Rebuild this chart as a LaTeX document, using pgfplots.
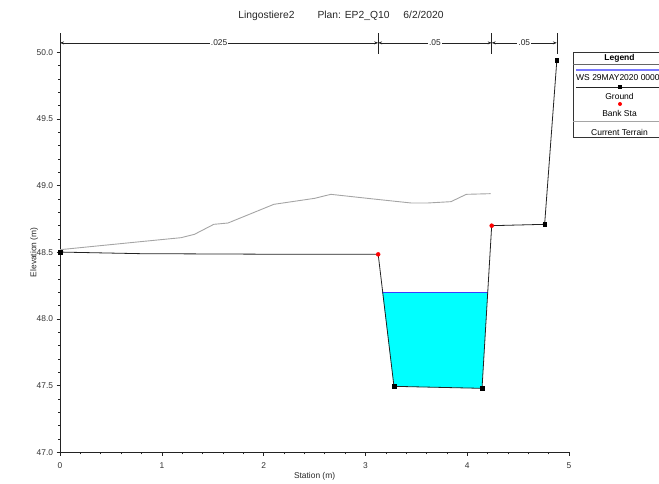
\documentclass[border=0pt]{standalone}
\usepackage{fontspec}
\setmainfont{Liberation Sans}
\usepackage{pgfplots}
\pgfplotsset{compat=1.18}
\usetikzlibrary{arrows.meta}
\definecolor{wsblue}{RGB}{60,60,255}
\definecolor{terrain}{RGB}{165,165,165}
\definecolor{gnd}{RGB}{35,35,35}
\definecolor{water}{RGB}{0,255,255}
\begin{document}
\begin{tikzpicture}[x=1pt,y=1pt]
\begin{axis}[
  at={(59,23)}, anchor=south west,
  scale only axis, width=509pt, height=400pt,
  xmin=0, xmax=5, ymin=47, ymax=50,
  axis x line=bottom, axis y line=left,
  axis line style={-, gnd, line width=0.8pt},
  clip=false,
  xtick={0,1,2,3,4,5},
  ytick={47,47.5,48,48.5,49,49.5,50},
  minor x tick num=4, minor y tick num=4,
  tick align=outside,
  major tick length=3.5pt, minor tick length=2pt,
  tick style={gnd, line width=0.6pt},
  /pgf/number format/assume math mode=true,
  ticklabel style={font=\fontsize{8.4}{10}\selectfont, text=black!80},
  yticklabel style={/pgf/number format/.cd, fixed, fixed zerofill, precision=1},
  xticklabel style={yshift=-3pt, /pgf/number format/.cd, fixed, precision=0},
  xlabel={Station (m)}, ylabel={Elevation (m)},
  label style={font=\fontsize{8.4}{10}\selectfont, text=black!85},
  xlabel style={at={(axis description cs:0.5,-0.06)}, anchor=center},
  ylabel style={at={(axis description cs:-0.051,0.5)}, anchor=center},
  title={Lingostiere2\hspace{23pt}Plan: EP2\_Q10\hspace{14pt}6/2/2020},
  title style={at={(axis description cs:0.552,1.077)}, anchor=center, font=\fontsize{10.3}{12}\selectfont, text=black!85},
]
% water fill
\addplot[draw=none, fill=water] coordinates {(3.166,48.20) (3.28,47.495) (4.145,47.48) (4.201,48.20)} -- cycle;
% water surface
\addplot[wsblue, line width=1pt] coordinates {(3.166,48.20) (4.201,48.20)};
% current terrain
\addplot[terrain, line width=0.9pt] coordinates {
  (0,48.52) (0.79,48.58) (1.19,48.61) (1.32,48.635) (1.51,48.71) (1.65,48.72)
  (2.10,48.86) (2.50,48.905) (2.66,48.935) (3.08,48.90) (3.45,48.87) (3.61,48.87)
  (3.84,48.88) (3.99,48.935) (4.23,48.94)};
% ground
\addplot[gnd, line width=0.8pt] coordinates {
  (0,48.502) (0.79,48.49) (2.35,48.485) (3.125,48.485) (3.28,47.495)
  (4.145,47.48) (4.24,48.70) (4.76,48.71) (4.88,49.94)};
\addplot[only marks, mark=square*, mark size=1.8pt, black] coordinates {
  (0,48.502) (3.28,47.495) (4.145,47.48) (4.76,48.71) (4.88,49.94)};
\addplot[only marks, mark=*, mark size=2pt, red] coordinates {
  (3.125,48.485) (4.24,48.70)};
% Manning n bars
\draw[gnd, line width=0.6pt] (axis cs:0,50.142) -- (axis cs:0,49.99);
\draw[gnd, line width=0.6pt] (axis cs:3.125,50.142) -- (axis cs:3.125,49.99);
\draw[gnd, line width=0.6pt] (axis cs:4.24,50.142) -- (axis cs:4.24,49.99);
\draw[gnd, line width=0.6pt] (axis cs:4.88,50.142) -- (axis cs:4.88,49.99);
\draw[gnd, line width=0.6pt, {Stealth[length=4pt,width=3pt]}-{Stealth[length=4pt,width=3pt]}] (axis cs:0,50.071) -- node[fill=white, inner sep=1pt, font=\fontsize{8.4}{10}\selectfont, text=black!85] {.025} (axis cs:3.125,50.071);
\draw[gnd, line width=0.6pt, {Stealth[length=4pt,width=3pt]}-{Stealth[length=4pt,width=3pt]}] (axis cs:3.125,50.071) -- node[fill=white, inner sep=1pt, font=\fontsize{8.4}{10}\selectfont, text=black!85] {.05} (axis cs:4.24,50.071);
\draw[gnd, line width=0.6pt, {Stealth[length=4pt,width=3pt]}-{Stealth[length=4pt,width=3pt]}] (axis cs:4.24,50.071) -- node[fill=white, inner sep=1pt, font=\fontsize{8.4}{10}\selectfont, text=black!85] {.05} (axis cs:4.88,50.071);
\end{axis}
% legend
\begin{scope}[font=\fontsize{8.5}{10}\selectfont]
\draw[black!80, line width=0.8pt] (573,346) -- (573,431) -- (700,431);
\draw[black!80, line width=0.8pt] (573,346) -- (700,346);
\node[font=\fontsize{8.5}{10}\selectfont\bfseries] at (619.5,425) {Legend};
\draw[black!60, line width=0.8pt] (573,419) -- (700,419);
\draw[wsblue!70, line width=1.4pt] (576,413) -- (700,413);
\node[anchor=west, inner sep=0pt] at (576,405) {WS 29MAY2020 0000};
\draw[gnd, line width=0.8pt] (576,396) -- (700,396);
\node[fill=black, minimum size=3.6pt, inner sep=0pt] at (620,396) {};
\node at (619.5,387) {Ground};
\node[circle, fill=red, minimum size=4pt, inner sep=0pt] at (620,379) {};
\node at (619.5,370) {Bank Sta};
\draw[terrain, line width=1pt] (573,361) -- (700,361);
\node at (619.5,351) {Current Terrain};
\end{scope}
\pgfresetboundingbox
\path[use as bounding box] (0,0) rectangle (659,483);
\end{tikzpicture}
\end{document}
